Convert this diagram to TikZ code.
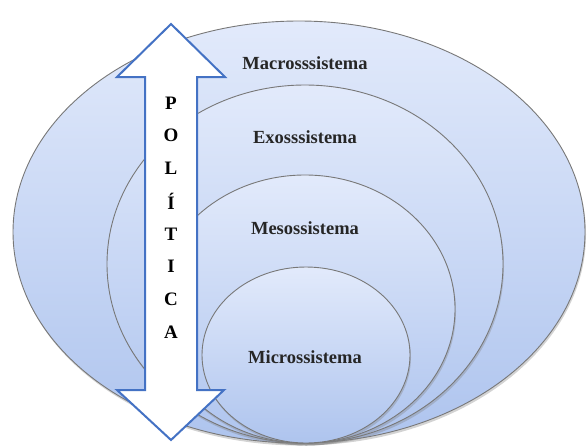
\documentclass[tikz,border=0pt]{standalone}
\usepackage{fontspec}
\setmainfont{Liberation Serif}
\usetikzlibrary{shapes.geometric,shadows}

\definecolor{azulclaro}{RGB}{226,234,251}
\definecolor{azulescuro}{RGB}{174,196,238}
\definecolor{contorno}{RGB}{120,120,120}
\definecolor{seta}{RGB}{68,114,196}

\tikzset{
  sistema/.style={ellipse, draw=contorno, line width=0.9pt, inner sep=0pt,
    top color=azulclaro, bottom color=azulescuro,
    drop shadow={opacity=0.35, shadow xshift=1pt, shadow yshift=-2.5pt}},
  rotulo/.style={font=\fontsize{18.5}{20}\selectfont\bfseries, text=black!85},
  letra/.style={font=\fontsize{19}{21}\selectfont\bfseries}
}

\begin{document}
\begin{tikzpicture}[x=1pt,y=-1pt]
  \useasboundingbox (0,0) rectangle (588,445);
  % nested systems, all touching at the bottom
  \node[sistema, minimum width=572, minimum height=422] (macro) at (299,232) {};
  \node[sistema, minimum width=396, minimum height=358] (exo) at (305,264) {};
  \node[sistema, minimum width=300, minimum height=268] (meso) at (305,309) {};
  \node[sistema, minimum width=208, minimum height=176] (micro) at (306,355) {};
  \node[rotulo] (tmacro) at (305,63) {Macrosssistema};
  \node[rotulo] (texo) at (305,137) {Exosssistema};
  \node[rotulo] (tmeso) at (305,228) {Mesossistema};
  \node[rotulo] (tmicro) at (305,357) {Microssistema};
  % double arrow
  \draw[seta, line width=2pt, fill=white, line join=miter]
    (171,24) -- (225,77) -- (197,77) -- (197,390) -- (224,390) -- (171,440)
    -- (117,390) -- (145,390) -- (145,77) -- (117,77) -- cycle;
  \foreach \l [count=\i] in {P,O,L,Í,T,I,C,A}
    \node[letra] (l\i) at (171,70.3+32.7*\i) {\l};
\end{tikzpicture}
\end{document}
